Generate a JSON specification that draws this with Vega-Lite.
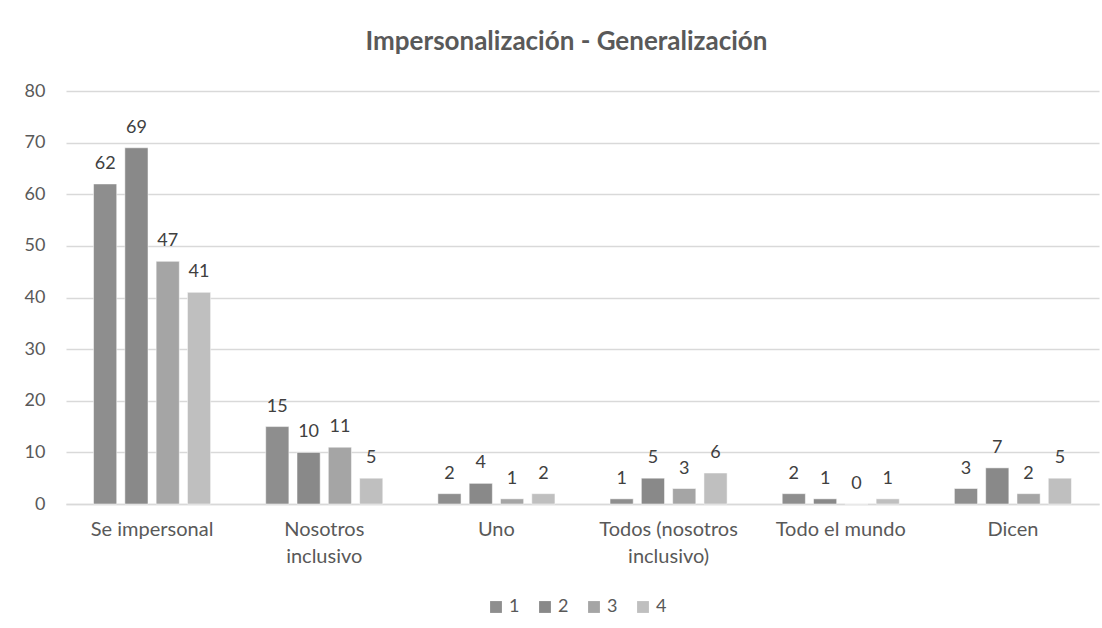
{
  "$schema": "https://vega.github.io/schema/vega-lite/v6.json",
  "autosize": {"type": "none"},
  "width": 1033,
  "height": 413,
  "padding": {"left": 66, "top": 91, "right": 3, "bottom": 124},
  "background": "white",
  "config": {"view": {"stroke": null}},
  "title": {
    "text": "Impersonalización - Generalización",
    "fontSize": 26,
    "fontWeight": "bold",
    "color": "#595959",
    "font": "Lato",
    "anchor": "middle",
    "offset": 27,
    "dx": -16
  },
  "data": {
    "values": [
      {"categoria": "Se impersonal", "serie": "1", "valor": 62},
      {"categoria": "Se impersonal", "serie": "2", "valor": 69},
      {"categoria": "Se impersonal", "serie": "3", "valor": 47},
      {"categoria": "Se impersonal", "serie": "4", "valor": 41},
      {"categoria": "Nosotros inclusivo", "serie": "1", "valor": 15},
      {"categoria": "Nosotros inclusivo", "serie": "2", "valor": 10},
      {"categoria": "Nosotros inclusivo", "serie": "3", "valor": 11},
      {"categoria": "Nosotros inclusivo", "serie": "4", "valor": 5},
      {"categoria": "Uno", "serie": "1", "valor": 2},
      {"categoria": "Uno", "serie": "2", "valor": 4},
      {"categoria": "Uno", "serie": "3", "valor": 1},
      {"categoria": "Uno", "serie": "4", "valor": 2},
      {"categoria": "Todos (nosotros inclusivo)", "serie": "1", "valor": 1},
      {"categoria": "Todos (nosotros inclusivo)", "serie": "2", "valor": 5},
      {"categoria": "Todos (nosotros inclusivo)", "serie": "3", "valor": 3},
      {"categoria": "Todos (nosotros inclusivo)", "serie": "4", "valor": 6},
      {"categoria": "Todo el mundo", "serie": "1", "valor": 2},
      {"categoria": "Todo el mundo", "serie": "2", "valor": 1},
      {"categoria": "Todo el mundo", "serie": "3", "valor": 0},
      {"categoria": "Todo el mundo", "serie": "4", "valor": 1},
      {"categoria": "Dicen", "serie": "1", "valor": 3},
      {"categoria": "Dicen", "serie": "2", "valor": 7},
      {"categoria": "Dicen", "serie": "3", "valor": 2},
      {"categoria": "Dicen", "serie": "4", "valor": 5}
    ]
  },
  "encoding": {
    "x": {
      "field": "categoria",
      "type": "nominal",
      "sort": null,
      "title": null,
      "scale": {"paddingInner": 0.32, "paddingOuter": 0.16},
      "axis": {
        "labelAngle": 0,
        "labelFontSize": 20,
        "labelColor": "#595959",
        "labelFont": "Lato",
        "labelPadding": 15,
        "labelBaseline": "top",
        "labelLineHeight": 27,
        "labelOverlap": false,
        "ticks": false,
        "domain": true,
        "domainColor": "#d9d9d9",
        "domainWidth": 1.5,
        "labelExpr": "datum.label == 'Nosotros inclusivo' ? ['Nosotros', 'inclusivo'] : datum.label == 'Todos (nosotros inclusivo)' ? ['Todos (nosotros', 'inclusivo)'] : datum.label"
      }
    },
    "xOffset": {
      "field": "serie",
      "type": "nominal",
      "scale": {"paddingInner": 0.26, "paddingOuter": 0}
    },
    "y": {
      "field": "valor",
      "type": "quantitative",
      "title": null,
      "scale": {"domain": [0, 80], "nice": false},
      "axis": {
        "values": [0, 10, 20, 30, 40, 50, 60, 70, 80],
        "labelOverlap": false,
        "labelFontSize": 18,
        "labelColor": "#595959",
        "labelFont": "Lato",
        "labelPadding": 21,
        "ticks": false,
        "domain": false,
        "grid": true,
        "gridColor": "#d9d9d9",
        "gridWidth": 1.5
      }
    }
  },
  "layer": [
    {
      "mark": {"type": "bar", "stroke": "white", "strokeWidth": 0.5},
      "encoding": {
        "color": {
          "field": "serie",
          "type": "nominal",
          "scale": {"domain": ["1", "2", "3", "4"], "range": ["#8e8e8e", "#898989", "#a5a5a5", "#bfbfbf"]},
          "legend": {
            "title": null,
            "orient": "none",
            "legendX": 421,
            "legendY": 507,
            "padding": 0,
            "direction": "horizontal",
            "symbolType": "square",
            "symbolSize": 140,
            "symbolStrokeWidth": 0,
            "labelFontSize": 18,
            "labelColor": "#595959",
            "labelFont": "Lato",
            "columnPadding": 16,
            "labelOffset": 4
          }
        }
      }
    },
    {
      "mark": {"type": "text", "baseline": "bottom", "dy": -11, "fontSize": 18, "color": "#404040", "font": "Lato"},
      "encoding": {
        "text": {"field": "valor", "type": "quantitative"}
      }
    }
  ]
}
